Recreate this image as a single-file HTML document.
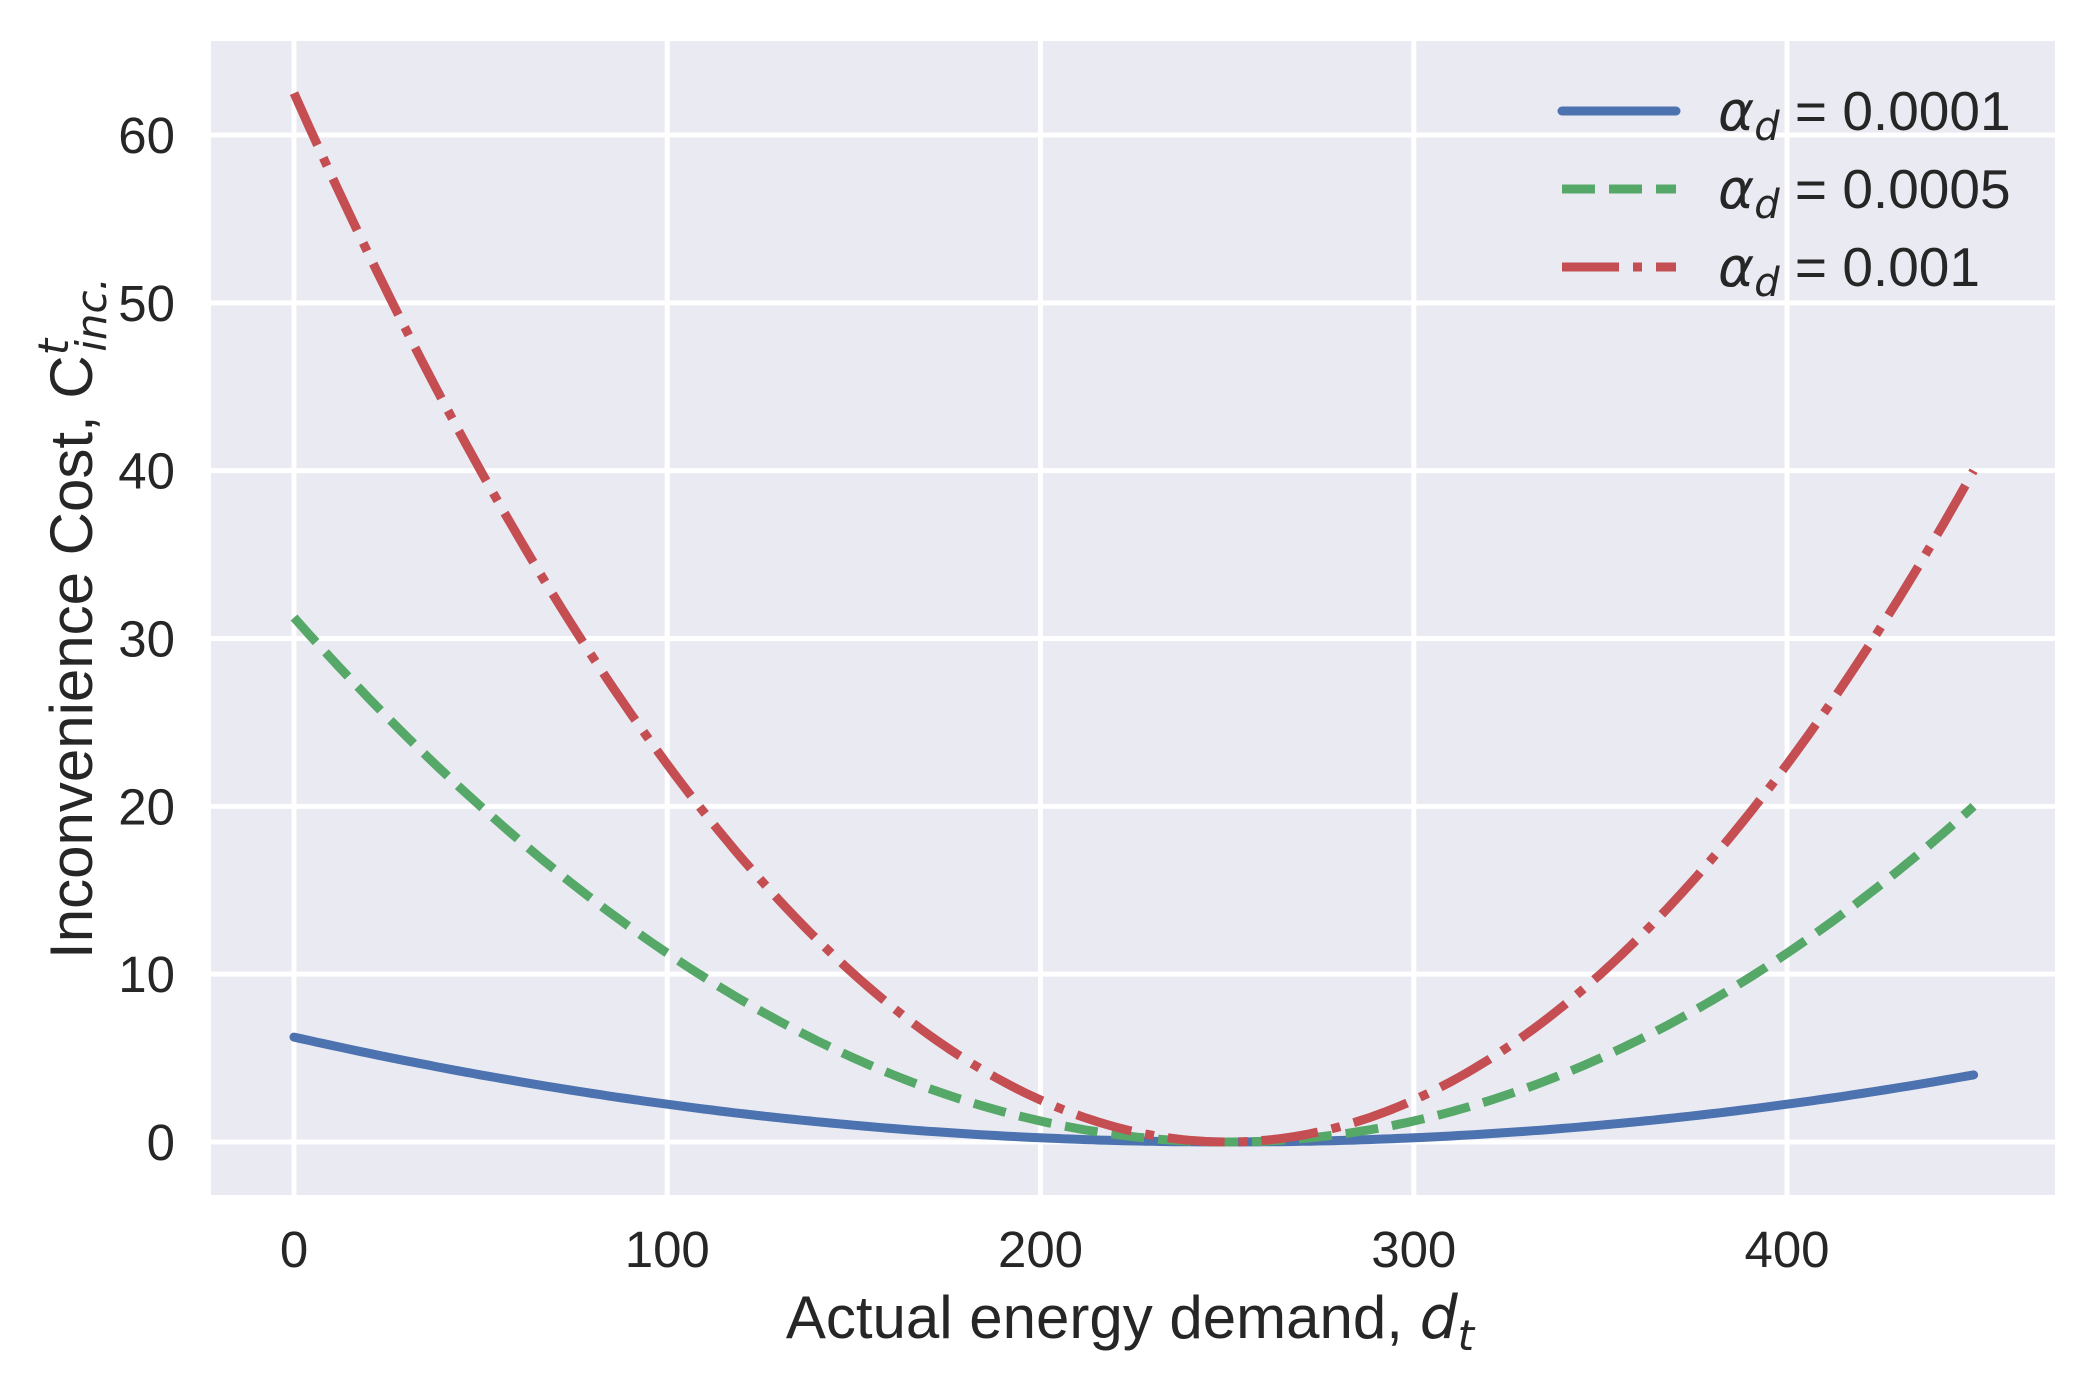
<!DOCTYPE html>
<html><head><meta charset="utf-8"><style>
html,body{margin:0;padding:0;background:#fff}
svg{display:block}
text{font-family:"Liberation Sans",sans-serif;fill:#262626}
.m{font-family:"DejaVu Sans",sans-serif;font-style:italic}
</style></head><body>
<svg id="s" width="2096" height="1388" viewBox="0 0 2096 1388" xmlns="http://www.w3.org/2000/svg">
<rect x="211" y="41" width="1844" height="1154" fill="#eaeaf2"/>
<g id="grid" stroke="#fff" stroke-width="5"></g>
<g id="curves" fill="none" stroke-width="9"></g>
<g font-size="51" id="ticks"></g>
<text x="1130" y="1338" font-size="60" text-anchor="middle">Actual energy demand, <tspan class="m">d</tspan><tspan class="m" font-size="42" dy="12">t</tspan></text>
<text transform="translate(92,618) rotate(-90)" font-size="60" text-anchor="middle">Inconvenience Cost, C<tspan class="m" font-size="42" dy="-24">t</tspan><tspan class="m" font-size="42" dx="-13" dy="38">inc.</tspan></text>
<g stroke-width="9">
<line x1="1562" y1="111" x2="1676" y2="111" stroke="#4c72b0" stroke-linecap="round"/>
<line x1="1562" y1="189" x2="1676" y2="189" stroke="#55a868" stroke-dasharray="33,14"/>
<line x1="1562" y1="267" x2="1676" y2="267" stroke="#c44e52" stroke-dasharray="57,14,9,14"/>
</g>
<g font-size="55">
<text x="1718" y="130"><tspan class="m">α</tspan><tspan class="m" font-size="40" dy="10">d</tspan><tspan dy="-10"> = 0.0001</tspan></text>
<text x="1718" y="208"><tspan class="m">α</tspan><tspan class="m" font-size="40" dy="10">d</tspan><tspan dy="-10"> = 0.0005</tspan></text>
<text x="1718" y="286"><tspan class="m">α</tspan><tspan class="m" font-size="40" dy="10">d</tspan><tspan dy="-10"> = 0.001</tspan></text>
</g>
</svg>
<script>
var NS="http://www.w3.org/2000/svg";
function X(v){return 294+v*3.7325}
function Y(v){return 1142-v*16.783}
function el(p,t,a,txt){var e=document.createElementNS(NS,t);for(var k in a)e.setAttribute(k,a[k]);if(txt!=null)e.textContent=txt;p.appendChild(e);return e}
var g=document.getElementById('grid'),tk=document.getElementById('ticks'),cv=document.getElementById('curves');
for(var v=0;v<=400;v+=100){el(g,'line',{x1:X(v),x2:X(v),y1:41,y2:1195});el(tk,'text',{x:X(v),y:1267,'text-anchor':'middle'},v)}
for(var v=0;v<=60;v+=10){el(g,'line',{x1:211,x2:2055,y1:Y(v),y2:Y(v)});el(tk,'text',{x:175,y:Y(v)+18,'text-anchor':'end'},v)}
var S=[[0.0001,'#4c72b0',null],[0.0005,'#55a868','33,14'],[0.001,'#c44e52','57,14,9,14']];
S.forEach(function(s){var d='';for(var i=0;i<=450;i+=2){var y=s[0]*(i-250)*(i-250);d+=(i?'L':'M')+X(i).toFixed(1)+','+Y(y).toFixed(1)}
var a={d:d,stroke:s[1]};if(s[2])a['stroke-dasharray']=s[2];else{a['stroke-linecap']='round';a['stroke-linejoin']='round'}el(cv,'path',a)});
</script>
</body></html>
